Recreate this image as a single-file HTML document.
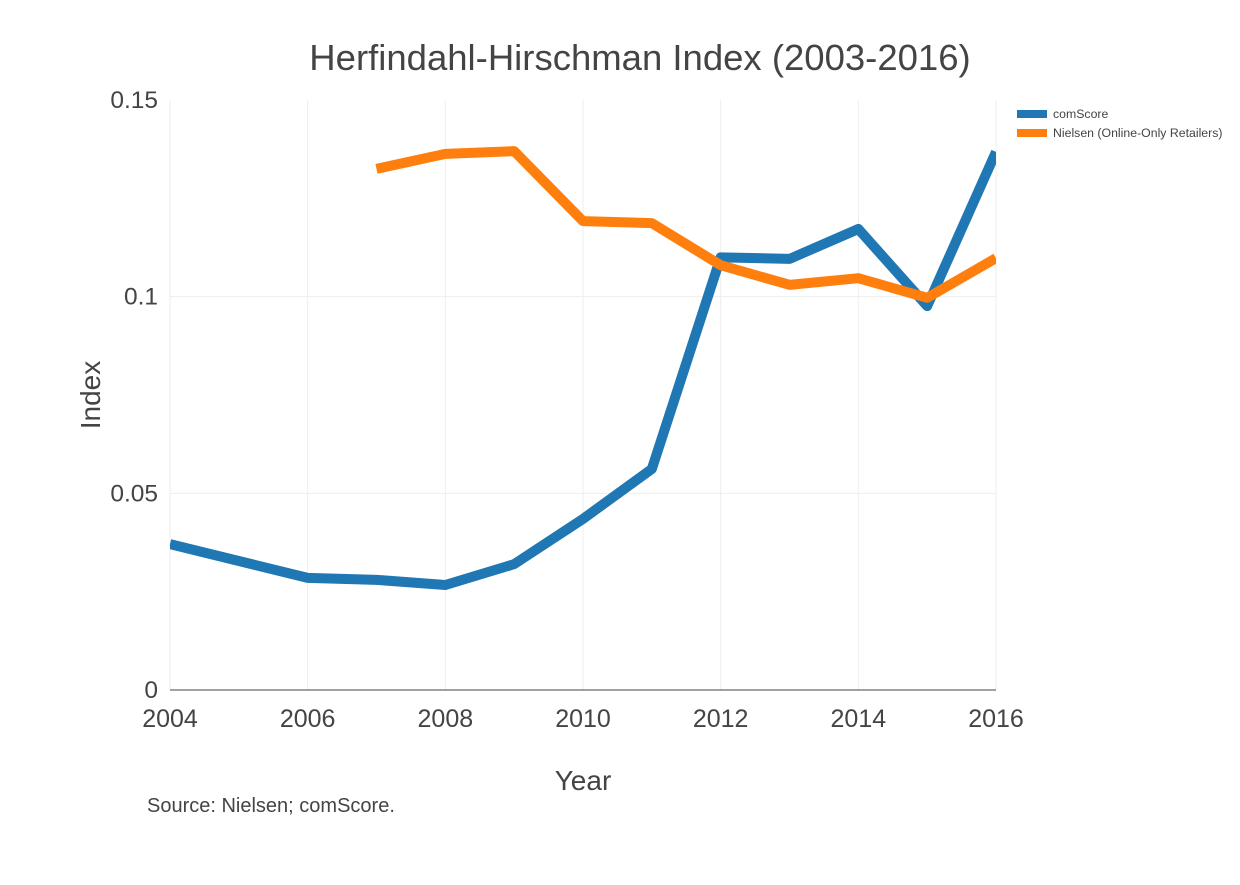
<!DOCTYPE html>
<html><head><meta charset="utf-8"><style>
html,body{margin:0;padding:0;background:#fff;}
svg text{font-family:"Liberation Sans",sans-serif;fill:#444;}
</style></head><body>
<svg id="chart" width="1240" height="880">
<text x="640" y="70" text-anchor="middle" font-size="36.5">Herfindahl-Hirschman Index (2003-2016)</text>
<g id="grid"></g>
<g id="lines"></g>
<g id="ticks"></g>
<text x="583" y="790" text-anchor="middle" font-size="28">Year</text>
<text transform="translate(100,395) rotate(-90)" text-anchor="middle" font-size="28">Index</text>
<text x="147" y="812" font-size="20">Source: Nielsen; comScore.</text>
<g>
<g><rect x="1017" y="110" width="30" height="8" fill="#1f77b4"/><text x="1053" y="118" font-size="12.3">comScore</text></g>
<g><rect x="1017" y="129" width="30" height="8" fill="#ff7f0e"/><text x="1053" y="137" font-size="12.3">Nielsen (Online-Only Retailers)</text></g>
</g>
</svg>
<script>
const comYears=[2004,2005,2006,2007,2008,2009,2010,2011,2012,2013,2014,2015,2016];
const comValues=[0.0371,0.0328,0.0285,0.0280,0.0267,0.0320,0.0435,0.0562,0.1100,0.1096,0.1172,0.0976,0.1368];
const nieYears=[2007,2008,2009,2010,2011,2012,2013,2014,2015,2016];
const nieValues=[0.1325,0.1363,0.1370,0.1192,0.1187,0.1080,0.1030,0.1047,0.0997,0.1098];
const xTicks=[2004,2006,2008,2010,2012,2014,2016];
const yTicks=[0,0.05,0.1,0.15];
const yTickLabels=["0","0.05","0.1","0.15"];
const X0=170,X1=996,Y0=690,Y1=100;
const xs=v=>X0+(v-2004)/(2016-2004)*(X1-X0);
const ys=v=>Y0-v/0.15*(Y0-Y1);
const NS="http://www.w3.org/2000/svg";
const svg=document.getElementById('chart');
const defs=document.createElementNS(NS,'defs');
defs.innerHTML='<clipPath id="clip"><rect x="170" y="95" width="826" height="600"/></clipPath>';
svg.prepend(defs);
const grid=document.getElementById('grid'),ticks=document.getElementById('ticks'),lines=document.getElementById('lines');
xTicks.forEach(t=>{
 const l=document.createElementNS(NS,'line');
 l.setAttribute('x1',xs(t));l.setAttribute('x2',xs(t));l.setAttribute('y1',Y1);l.setAttribute('y2',Y0);
 l.setAttribute('stroke','#eee');
 
 
 grid.appendChild(l);
 const tx=document.createElementNS(NS,'text');
 tx.setAttribute('x',xs(t));tx.setAttribute('y',727);tx.setAttribute('text-anchor','middle');tx.setAttribute('font-size','25');
 tx.textContent=t;
 
 
 ticks.appendChild(tx);
});
yTicks.forEach((t,i)=>{
 if(t!==0.15){
 const l=document.createElementNS(NS,'line');
 l.setAttribute('x1',X0);l.setAttribute('x2',X1);l.setAttribute('y1',ys(t));l.setAttribute('y2',ys(t));
 l.setAttribute('stroke',t===0?'#444':'#eee');
 
 
 grid.appendChild(l);
 }
 const tx=document.createElementNS(NS,'text');
 tx.setAttribute('x',158);tx.setAttribute('y',ys(t)+8);tx.setAttribute('text-anchor','end');tx.setAttribute('font-size','24.5');
 tx.textContent=yTickLabels[i];
 
 
 ticks.appendChild(tx);
});
function drawLine(xv,yv,color,name){
 const p=document.createElementNS(NS,'polyline');
 p.setAttribute('points',xv.map((x,i)=>xs(x)+','+ys(yv[i])).join(' '));
 p.setAttribute('fill','none');p.setAttribute('stroke',color);p.setAttribute('stroke-width','10');
 p.setAttribute('stroke-linejoin','round');p.setAttribute('clip-path','url(#clip)');
 
 
 lines.appendChild(p);
}
drawLine(comYears,comValues,'#1f77b4','comscore-line');
drawLine(nieYears,nieValues,'#ff7f0e','nielsen-line');
</script>
</body></html>
